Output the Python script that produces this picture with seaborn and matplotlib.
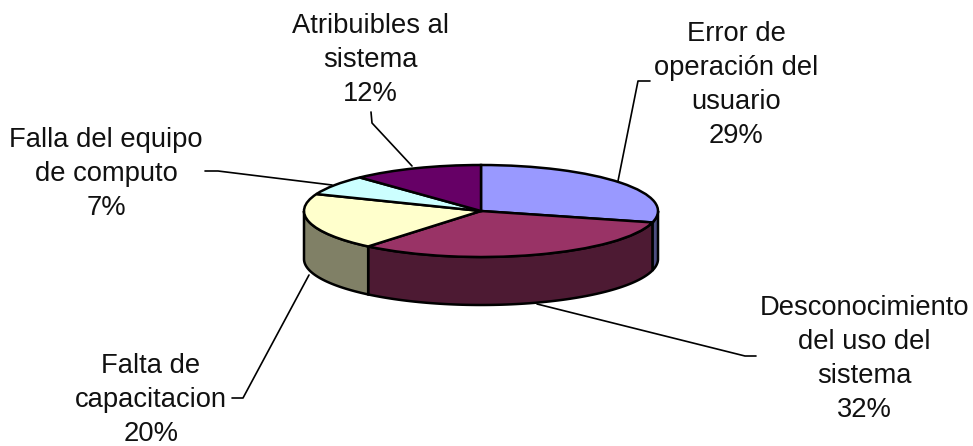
import numpy as np
import matplotlib
matplotlib.use("Agg")
import matplotlib.pyplot as plt
import seaborn as sns

categories = ["Error de\noperación del\nusuario", "Desconocimiento\ndel uso del\nsistema",
              "Falta de\ncapacitacion", "Falla del equipo\nde computo", "Atribuibles al\nsistema"]
values = [29, 32, 20, 7, 12]
top_colors = ["#9999FF", "#993366", "#FFFFCC", "#CCFFFF", "#660066"]
side_colors = ["#4D4D80", "#4D1A33", "#808066", "#668080", "#330033"]
label_px = [(736, 85), (864, 359), (151, 400), (106, 174), (370, 60)]
leader_px = [[(650, 81), (638, 81), (618, 181)],
             [(756, 356), (745, 356), (537, 304)],
             [(232, 398), (243, 398), (309, 275)],
             [(205, 171), (218, 171), (332, 185)],
             [(371, 112), (372, 123), (412, 166)]]

sns.set_theme(style="white")
plt.rcParams["font.family"] = ["Liberation Sans", "DejaVu Sans"]

W, H = 973, 446
CX, CY, RX, RY, DEPTH = 481, 211, 177, 46, 48
fig = plt.figure(figsize=(W / 100, H / 100), dpi=100, facecolor="white")
ax = fig.add_axes([0, 0, 1, 1])

# unit-circle data space squashed into an ellipse
wedges, _ = ax.pie(values, colors=top_colors, startangle=90, counterclock=False,
                   wedgeprops=dict(edgecolor="black", linewidth=1.8, zorder=3))
ax.set_aspect("auto")
ax.set_xlim(-CX / RX, (W - CX) / RX)
ax.set_ylim(-(H - CY) / RY, CY / RY)
ax.axis("off")

def px(p):
    return ((p[0] - CX) / RX, (CY - p[1]) / RY)

depth = DEPTH / RY
bounds = 90 - 3.6 * np.concatenate([[0], np.cumsum(values)])
for i, c in enumerate(side_colors):
    hi, lo = bounds[i], bounds[i + 1]
    # visible outer wall = part of the slice on the front half (180..360 deg)
    for shift in (-360, 0, 360):
        a = max(lo + shift, -180)
        b = min(hi + shift, 0)
        if b > a:
            t = np.radians(np.linspace(a, b, 80))
            x = np.cos(t)
            y = np.sin(t)
            ax.fill(np.r_[x, x[::-1]], np.r_[y, y[::-1] - depth],
                    facecolor=c, edgecolor="black", linewidth=1.8, zorder=2)

for pts in leader_px:
    q = np.array([px(p) for p in pts])
    ax.plot(q[:, 0], q[:, 1], color="black", lw=1.2, zorder=1)

for cat, v, p in zip(categories, values, label_px):
    x, y = px(p)
    ax.text(x, y, f"{cat}\n{v}%", ha="center", va="center", fontsize=19.7,
            color="#111111", linespacing=1.39, zorder=5)

fig.savefig("out.png", dpi=100)
